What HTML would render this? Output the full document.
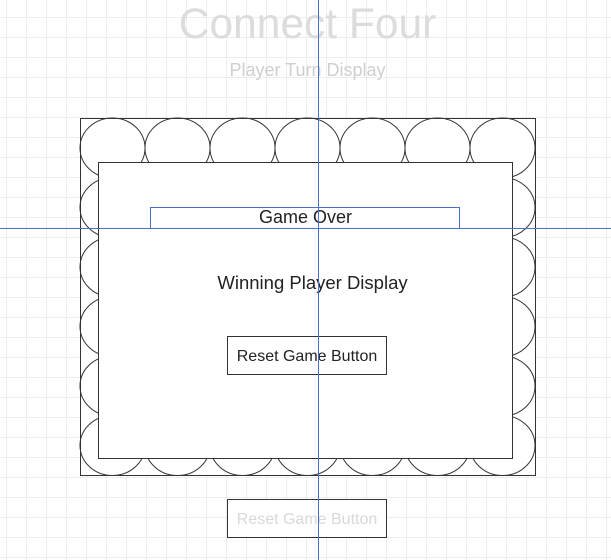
<!DOCTYPE html>
<html><head><style>
html,body{margin:0;padding:0;background:#fff;}
body{width:611px;height:560px;overflow:hidden;position:relative;font-family:"Liberation Sans",sans-serif;}
</style></head><body>
<svg width="611" height="560" xmlns="http://www.w3.org/2000/svg" style="position:absolute;left:0;top:0">
<defs>
<pattern id="g" x="6.5" y="17.5" width="20" height="20" patternUnits="userSpaceOnUse">
<path d="M0 0H20M0 0V20" stroke="#dedede" stroke-width="1" fill="none"/>
</pattern>
</defs>
<rect width="611" height="560" fill="url(#g)"/>
<text x="307.5" y="38" text-anchor="middle" font-size="42.5" fill="#dcdcdc" font-family="Liberation Sans, sans-serif">Connect Four</text>
<text x="307.5" y="76" text-anchor="middle" font-size="18" fill="#cfcfcf" font-family="Liberation Sans, sans-serif">Player Turn Display</text>
<rect x="80.5" y="118.5" width="455" height="357" fill="#fff" stroke="#333"/>
<g fill="none" stroke="#333" stroke-width="1">
<g id="row">
<ellipse cx="112.5" cy="148" rx="32.5" ry="30"/>
<ellipse cx="177.5" cy="148" rx="32.5" ry="30"/>
<ellipse cx="242.5" cy="148" rx="32.5" ry="30"/>
<ellipse cx="307.5" cy="148" rx="32.5" ry="30"/>
<ellipse cx="372.5" cy="148" rx="32.5" ry="30"/>
<ellipse cx="437.5" cy="148" rx="32.5" ry="30"/>
<ellipse cx="502.5" cy="148" rx="32.5" ry="30"/>
</g>
<use href="#row" y="59.5"/>
<use href="#row" y="119"/>
<use href="#row" y="178.5"/>
<use href="#row" y="238"/>
<use href="#row" y="297.5"/>
</g>
<rect x="98.5" y="162.5" width="414" height="296" fill="#fff" stroke="#333"/>
<rect x="150.5" y="207.5" width="309" height="21" fill="none" stroke="#4a72c4"/>
<text x="305.5" y="223" text-anchor="middle" font-size="18" fill="#222">Game Over</text>
<text x="312.5" y="289" text-anchor="middle" font-size="18.5" fill="#222">Winning Player Display</text>
<rect x="227.5" y="336.5" width="159" height="38" fill="#fff" stroke="#333"/>
<text x="307" y="361" text-anchor="middle" font-size="16" fill="#222">Reset Game Button</text>
<rect x="227.5" y="499.5" width="159" height="38" fill="#fff" stroke="#333"/>
<text x="307" y="524" text-anchor="middle" font-size="16" fill="#d8d8d8">Reset Game Button</text>
<line x1="318.5" y1="0" x2="318.5" y2="560" stroke="#4a72c4"/>
<line x1="0" y1="228.5" x2="611" y2="228.5" stroke="#4a72c4"/>
</svg>
</body></html>
